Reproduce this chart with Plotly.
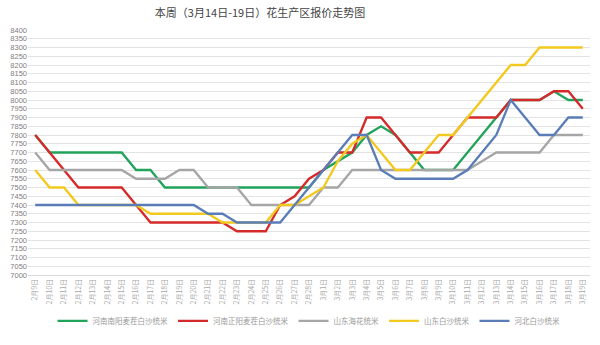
import plotly.graph_objects as go

title = "本周（3月14日-19日）花生产区报价走势图"

dates = ["2月9日", "2月10日", "2月11日", "2月12日", "2月13日", "2月14日", "2月15日", "2月16日",
         "2月17日", "2月18日", "2月19日", "2月20日", "2月21日", "2月22日", "2月23日", "2月24日",
         "2月25日", "2月26日", "2月27日", "2月28日", "3月1日", "3月2日", "3月3日", "3月4日",
         "3月5日", "3月6日", "3月7日", "3月8日", "3月9日", "3月10日", "3月11日", "3月12日",
         "3月13日", "3月14日", "3月15日", "3月16日", "3月17日", "3月18日", "3月19日"]

henan_nanyang = [7800, 7700, 7700, 7700, 7700, 7700, 7700, 7600, 7600, 7500,
                 7500, 7500, 7500, 7500, 7500, 7500, 7500, 7500, 7500, 7500,
                 7600, 7650, 7700, 7800, 7850, 7800, 7700, 7600, 7600, 7600,
                 7700, 7800, 7900, 8000, 8000, 8000, 8050, 8000, 8000]

henan_zhengyang = [7800, 7700, 7600, 7500, 7500, 7500, 7500, 7400, 7300, 7300,
                   7300, 7300, 7300, 7300, 7250, 7250, 7250, 7400, 7450, 7550,
                   7600, 7700, 7700, 7900, 7900, 7800, 7700, 7700, 7700, 7800,
                   7900, 7900, 7900, 8000, 8000, 8000, 8050, 8050, 7950]

shandong_haihua = [7700, 7600, 7600, 7600, 7600, 7600, 7600, 7550, 7550, 7550,
                   7600, 7600, 7500, 7500, 7500, 7400, 7400, 7400, 7400, 7400,
                   7500, 7500, 7600, 7600, 7600, 7600, 7600, 7600, 7600, 7600,
                   7600, 7650, 7700, 7700, 7700, 7700, 7800, 7800, 7800]

series4 = [7600, 7500, 7500, 7400, 7400, 7400, 7400, 7400, 7350, 7350,
           7350, 7350, 7350, 7300, 7300, 7300, 7300, 7400, 7400, 7450,
           7500, 7650, 7750, 7800, 7700, 7600, 7600, 7700, 7800, 7800,
           7900, 8000, 8100, 8200, 8200, 8300, 8300, 8300, 8300]

series5 = [7400, 7400, 7400, 7400, 7400, 7400, 7400, 7400, 7400, 7400,
           7400, 7400, 7350, 7350, 7300, 7300, 7300, 7300, 7400, 7500,
           7600, 7700, 7800, 7800, 7600, 7550, 7550, 7550, 7550, 7550,
           7600, 7700, 7800, 8000, 7900, 7800, 7800, 7900, 7900]

names = ["河南南阳麦茬白沙统米", "河南正阳麦茬白沙统米", "山东海花统米", "山东白沙统米", "河北白沙统米"]
colors = ["#22a35b", "#d42a2a", "#a6a6a6", "#f2c91e", "#5a7db8"]
values = [henan_nanyang, henan_zhengyang, shandong_haihua, series4, series5]

fig = go.Figure()
for name, col, vals in zip(names, colors, values):
    fig.add_trace(go.Scatter(x=dates, y=vals, name=name, mode="lines",
                             line=dict(color=col, width=2.3)))

fig.update_layout(
    width=600, height=345,
    margin=dict(l=25, r=10, t=30, b=58),
    paper_bgcolor="white", plot_bgcolor="white",
    title=dict(text=title, x=260/600, xanchor="center", xref="container",
               y=1 - 13/345, yanchor="middle", yref="container",
               font=dict(family="Noto Sans CJK SC", size=11, color="#444444")),
    font=dict(family="Noto Sans CJK SC", color="#888888"),
    showlegend=True,
    legend=dict(orientation="h", x=0.5, xanchor="center", y=-0.187, yanchor="middle",
                font=dict(size=7.5, color="#999999"), itemwidth=30,
                bgcolor="rgba(0,0,0,0)"),
)
fig.update_yaxes(range=[7000, 8400], dtick=50, tick0=7000, showgrid=True,
                 gridcolor="#e3e3e3", gridwidth=1, zeroline=False,
                 tickfont=dict(size=7.5, color="#808080", family="Liberation Sans"),
                 ticks="", showline=False, fixedrange=True)
fig.update_xaxes(type="category", range=[-0.5, len(dates) - 0.5], tickangle=-90,
                 tickfont=dict(size=7, color="#a8a8a8"), showgrid=False,
                 showline=True, linecolor="#d9d9d9", linewidth=1, ticks="")

fig.write_html("out.html")
